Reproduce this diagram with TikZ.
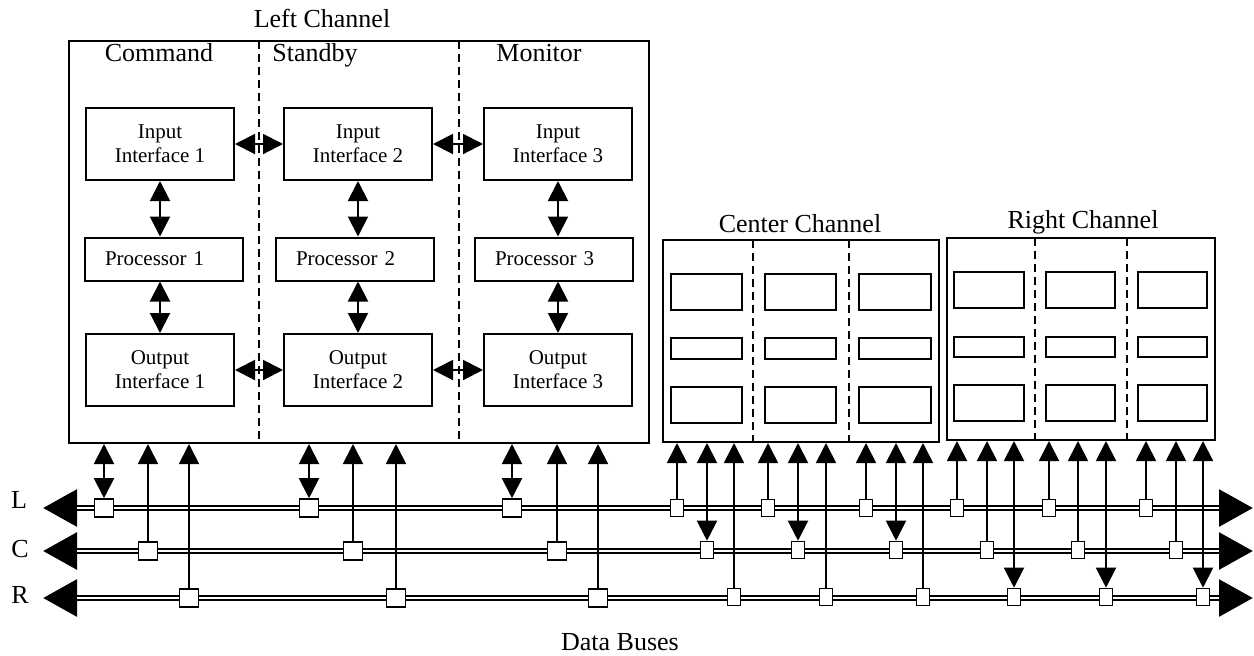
\documentclass[tikz,border=0pt]{standalone}
\usepackage{fontspec}
\setmainfont{Liberation Serif}
\usetikzlibrary{arrows.meta}

\tikzset{
  chbox/.style={draw, line width=1pt, inner sep=0pt},
  ifbox/.style={draw, line width=1pt, minimum width=74pt, minimum height=36pt,
    inner sep=0pt, align=center, font=\fontsize{10.5}{12}\selectfont},
  procbox/.style={draw, line width=1pt, text width=59pt, inner xsep=10pt,
    inner ysep=0pt, minimum height=21.5pt, align=left,
    font=\fontsize{10.5}{12}\selectfont},
  unit/.style={draw, line width=1pt},
  divider/.style={line width=0.8pt, dash pattern=on 4pt off 2.5pt},
  link/.style={line width=1pt,
    {Triangle[length=10pt,width=10pt]}-{Triangle[length=10pt,width=10pt]}},
  feed/.style={line width=0.9pt, -{Triangle[length=10pt,width=10pt]}},
  tap/.style={draw, fill=white, line width=0.8pt, minimum width=9.5pt,
    minimum height=9pt, inner sep=0pt},
  slimtap/.style={tap, minimum width=6.5pt, minimum height=8.5pt},
  bus/.style={line width=3pt,
    {Triangle[length=17pt,width=18pt]}-{Triangle[length=17pt,width=18pt]}},
  busgap/.style={white, line width=1pt, shorten <=17pt, shorten >=17pt},
  title/.style={font=\fontsize{13}{15}\selectfont, anchor=base},
}

\begin{document}
\begin{tikzpicture}[x=0.5pt,y=-0.5pt]
  \useasboundingbox (0,0) rectangle (1254,655);

  % channel frames
  \node[chbox, minimum width=290pt, minimum height=201pt] (lch) at (359,242) {};
  \node[chbox, minimum width=138pt, minimum height=101pt] (cch) at (801,341) {};
  \node[chbox, minimum width=134pt, minimum height=101pt] (rch) at (1081,339) {};

  \node[title] (lchname) at (322,27) {Left Channel};
  \node[title] (cchname) at (800,232) {Center Channel};
  \node[title] (rchname) at (1083,228) {Right Channel};
  \node[title] (cmdname) at (159,61) {Command};
  \node[title] (sbyname) at (315,61) {Standby};
  \node[title] (monname) at (539,61) {Monitor};

  \foreach \x in {259,459} \draw[divider] (\x,41) -- (\x,443);
  \foreach \x in {753,849} \draw[divider] (\x,240) -- (\x,442);
  \foreach \x in {1035,1127} \draw[divider] (\x,238) -- (\x,440);

  % left channel lanes
  \foreach \i/\x/\px in {1/160/164, 2/358/355, 3/558/554} {
    \node[ifbox] (in\i) at (\x,144) {Input\\Interface \i};
    \node[procbox] (pr\i) at (\px,259) {Processor \i};
    \node[ifbox] (out\i) at (\x,370) {Output\\Interface \i};
    \draw[link] (in\i.south) -- (in\i.south |- pr\i.north);
    \draw[link] (out\i.north |- pr\i.south) -- (out\i.north);
  }
  \draw[link] (in1) -- (in2);
  \draw[link] (in2) -- (in3);
  \draw[link] (out1) -- (out2);
  \draw[link] (out2) -- (out3);

  % center and right channel lanes
  \foreach \xa/\xb in {671/742,765/836,859/931}
    \foreach \ya/\yb in {274/310,338/359,387/423}
      \draw[unit] (\xa,\ya) rectangle (\xb,\yb);
  \foreach \xa/\xb in {954/1024,1046/1115,1138/1207}
    \foreach \ya/\yb in {272/308,337/357,385/421}
      \draw[unit] (\xa,\ya) rectangle (\xb,\yb);

  % data buses
  \foreach \b/\y in {L/508,C/551,R/598} {
    \coordinate (\b-w) at (43,\y);
    \coordinate (\b-e) at (1253,\y);
    \draw[bus] (\b-w) -- (\b-e);
    \draw[busgap] (\b-w) -- (\b-e);
  }
  \node[title] (Lname) at (19,508) {L};
  \node[title] (Cname) at (20,557) {C};
  \node[title] (Rname) at (20,603) {R};
  \node[title] (busname) at (620,650) {Data Buses};

  % bus taps
  \foreach \i/\xl/\xc/\xr in {1/104/148/189, 2/309/353/396, 3/512/557/598} {
    \node[tap] (lL\i) at (\xl,508) {};
    \node[tap] (lC\i) at (\xc,551) {};
    \node[tap] (lR\i) at (\xr,598) {};
    \draw[link] (lL\i.north) -- (lL\i.north |- lch.south);
    \draw[feed] (lC\i.north) -- (lC\i.north |- lch.south);
    \draw[feed] (lR\i.north) -- (lR\i.north |- lch.south);
  }
  \foreach \i/\xl/\xc/\xr in {1/677/707/734, 2/768/798/826, 3/866/896/923} {
    \node[slimtap] (cL\i) at (\xl,508) {};
    \node[slimtap] (cC\i) at (\xc,550) {};
    \node[slimtap] (cR\i) at (\xr,597) {};
    \draw[feed] (cL\i.north) -- (cL\i.north |- cch.south);
    \draw[link] (cC\i.north) -- (cC\i.north |- cch.south);
    \draw[feed] (cR\i.north) -- (cR\i.north |- cch.south);
  }
  \foreach \i/\xl/\xc/\xr in {1/957/987/1014, 2/1049/1078/1106, 3/1146/1176/1203} {
    \node[slimtap] (rL\i) at (\xl,508) {};
    \node[slimtap] (rC\i) at (\xc,550) {};
    \node[slimtap] (rR\i) at (\xr,597) {};
    \draw[feed] (rL\i.north) -- (rL\i.north |- rch.south);
    \draw[feed] (rC\i.north) -- (rC\i.north |- rch.south);
    \draw[link] (rR\i.north) -- (rR\i.north |- rch.south);
  }
\end{tikzpicture}
\end{document}
